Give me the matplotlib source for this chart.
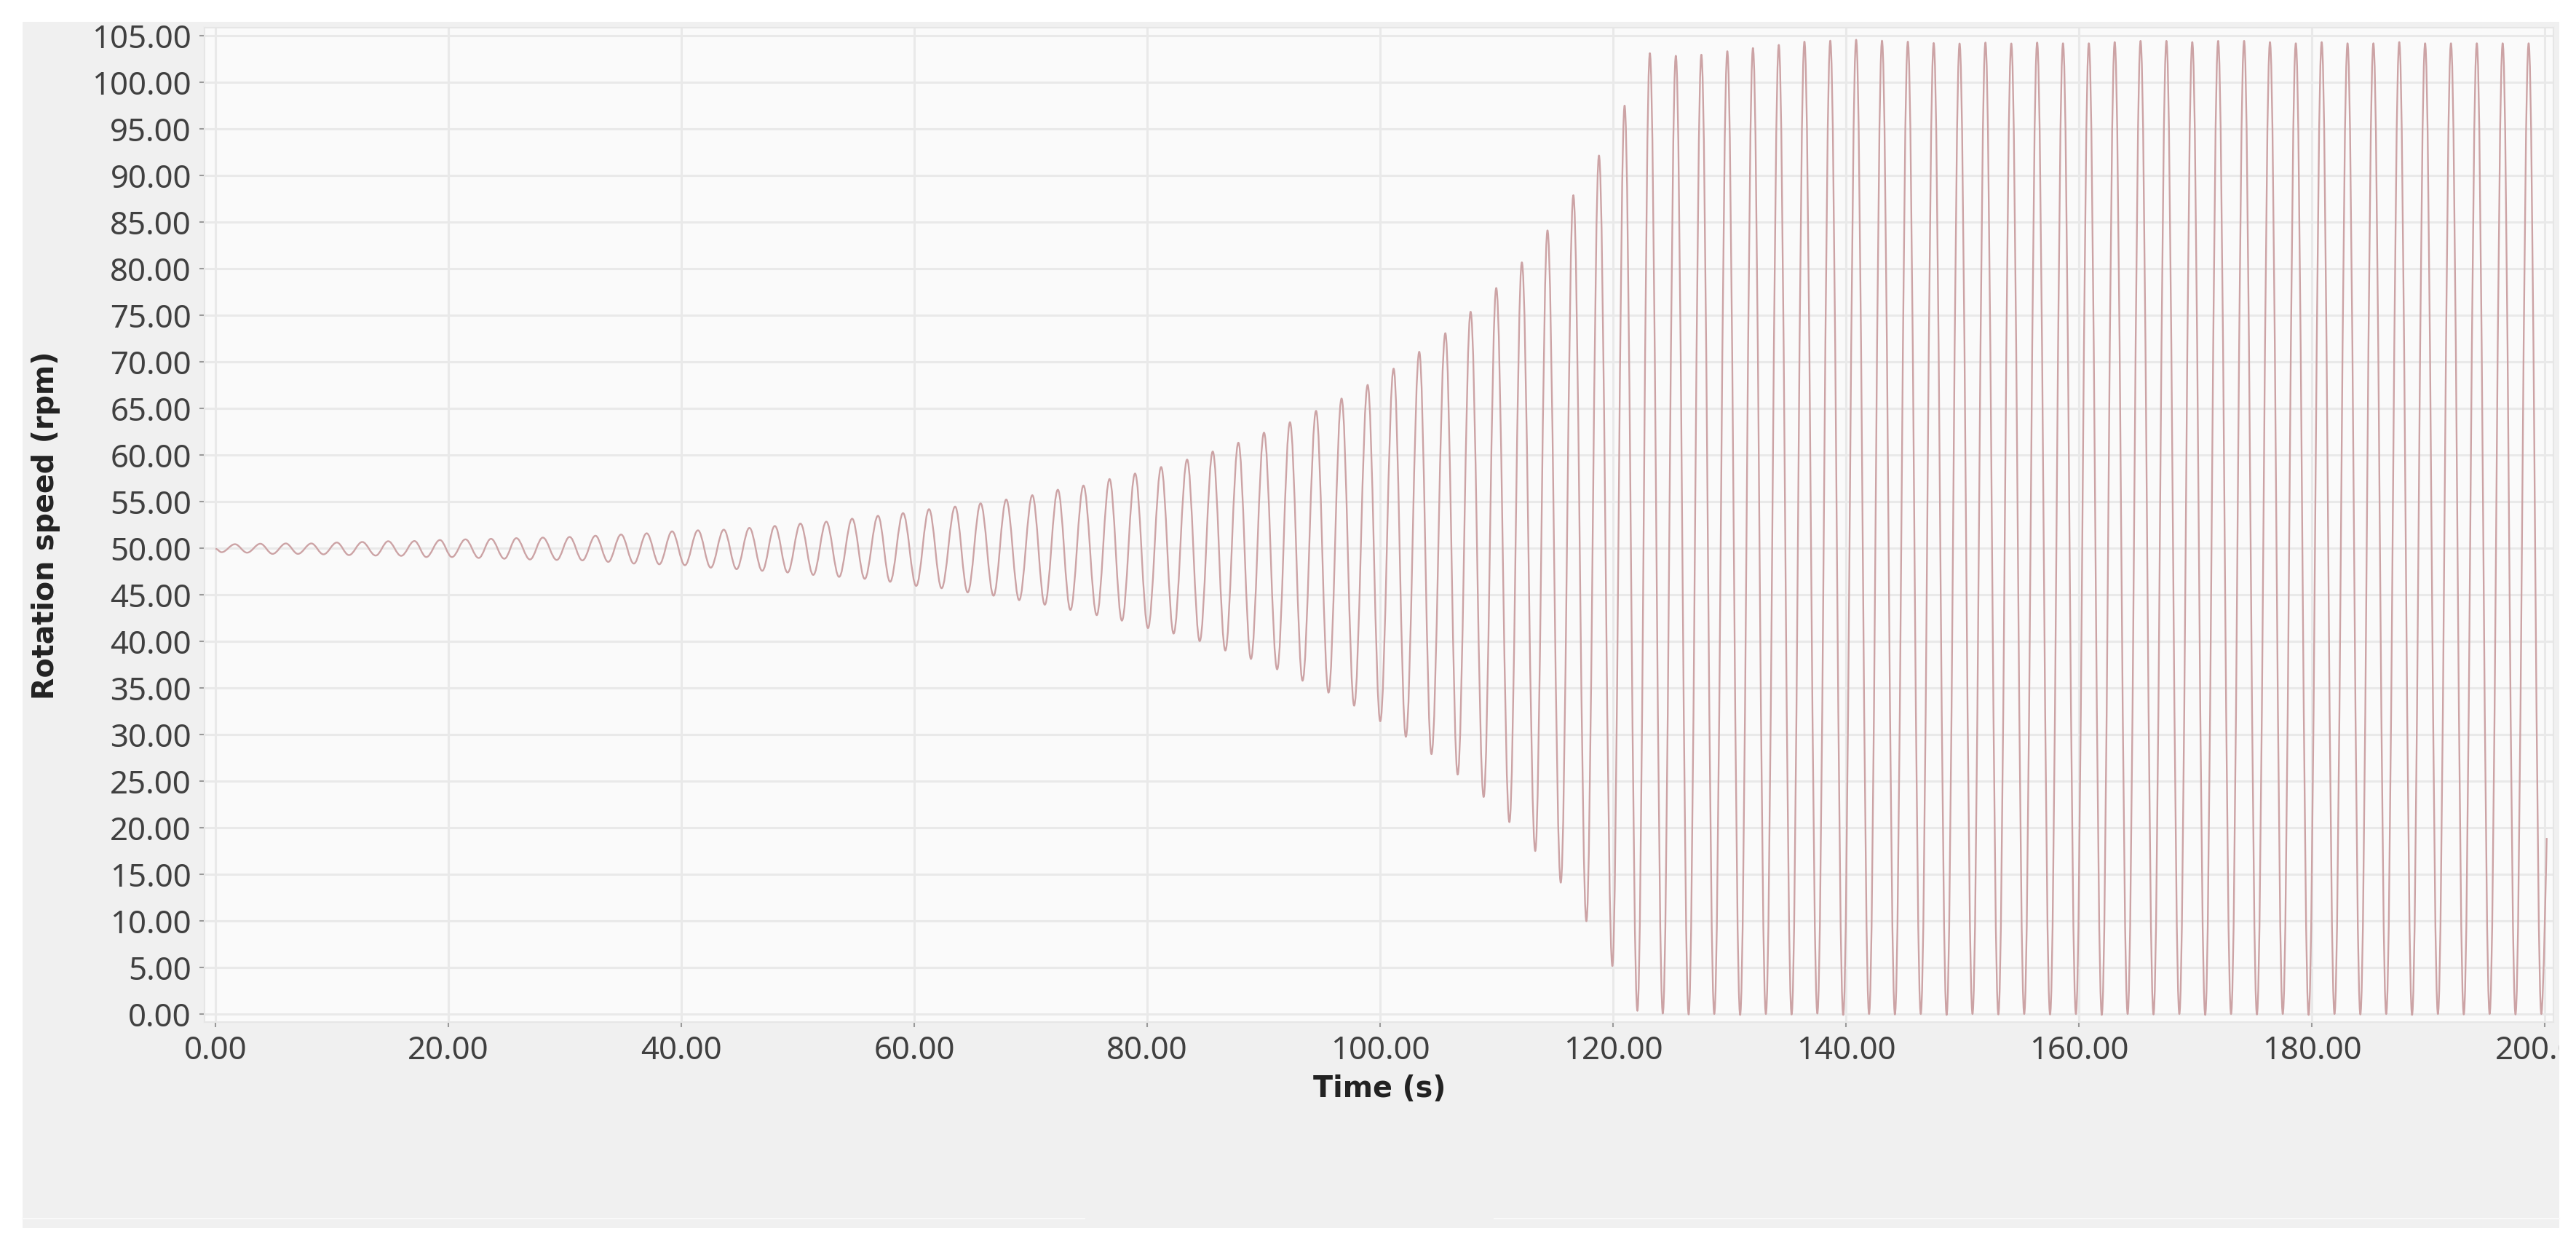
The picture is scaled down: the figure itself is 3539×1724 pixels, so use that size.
import numpy as np
import matplotlib
matplotlib.use('Agg')
import matplotlib.pyplot as plt
from matplotlib.path import Path
from matplotlib.patches import PathPatch, Rectangle
from matplotlib.transforms import Bbox, TransformedBbox
from matplotlib.ticker import FormatStrFormatter

start_t, start_v = 0.0, 49.95
end_t, end_v = 200.15, 18.9

peak_t = [1.67, 3.85, 6.04, 8.23, 10.42, 12.60, 14.83, 17.08, 19.27, 21.46,
          23.65, 25.83, 28.10, 30.40, 32.62, 34.82, 37.02, 39.20, 41.42, 43.64,
          45.84, 48.02, 50.22, 52.44, 54.66, 56.88, 59.03, 61.26, 63.50, 65.69,
          67.89, 70.13, 72.32, 74.52, 76.76, 78.95, 81.19, 83.42, 85.62, 87.82,
          90.02, 92.25, 94.49, 96.68, 98.92, 101.15, 103.35, 105.59, 107.76, 109.96,
          112.16, 114.36, 116.58, 118.78, 120.98, 123.15, 125.38, 127.57, 129.80, 132.00,
          134.22, 136.42, 138.64, 140.86, 143.08, 145.30, 147.52, 149.74, 151.96, 154.18,
          156.40, 158.62, 160.84, 163.06, 165.28, 167.50, 169.72, 171.94, 174.17, 176.39,
          178.61, 180.83, 183.05, 185.27, 187.49, 189.71, 191.93, 194.15, 196.37, 198.60]
peak_v = [50.44, 50.49, 50.52, 50.52, 50.62, 50.68, 50.76, 50.78, 50.89, 50.96,
          51.02, 51.09, 51.15, 51.22, 51.35, 51.48, 51.61, 51.82, 51.93, 52.00,
          52.19, 52.40, 52.66, 52.86, 53.18, 53.49, 53.78, 54.20, 54.48, 54.83,
          55.24, 55.70, 56.29, 56.74, 57.44, 58.03, 58.73, 59.53, 60.40, 61.34,
          62.42, 63.54, 64.76, 66.08, 67.54, 69.29, 71.10, 73.10, 75.40, 77.95,
          80.70, 84.13, 87.91, 92.17, 97.53, 103.16, 102.88, 103.00, 103.37, 103.71,
          104.05, 104.40, 104.50, 104.60, 104.50, 104.40, 104.25, 104.20, 104.30, 104.20,
          104.30, 104.22, 104.22, 104.35, 104.48, 104.48, 104.35, 104.48, 104.48, 104.35,
          104.22, 104.35, 104.22, 104.22, 104.35, 104.22, 104.22, 104.22, 104.22, 104.22]

trough_t = [0.52, 2.71, 4.90, 7.08, 9.27, 11.46, 13.75, 15.94, 18.10, 20.30,
            22.60, 24.80, 27.00, 29.30, 31.50, 33.72, 35.92, 38.10, 40.30, 42.52,
            44.74, 46.94, 49.12, 51.32, 53.54, 55.74, 57.92, 60.16, 62.34, 64.58,
            66.80, 69.00, 71.20, 73.40, 75.66, 77.82, 80.06, 82.26, 84.50, 86.70,
            88.90, 91.15, 93.33, 95.56, 97.76, 100.00, 102.20, 104.40, 106.65, 108.88,
            111.09, 113.31, 115.50, 117.70, 119.93, 122.08, 124.26, 126.48, 128.68, 130.90,
            133.11, 135.32, 137.53, 139.75, 141.97, 144.19, 146.41, 148.63, 150.85, 153.07,
            155.29, 157.51, 159.73, 161.95, 164.17, 166.39, 168.61, 170.83, 173.05, 175.27,
            177.49, 179.71, 181.93, 184.15, 186.37, 188.59, 190.81, 193.03, 195.25, 197.47,
            199.69]
trough_v = [49.58, 49.53, 49.40, 49.40, 49.35, 49.27, 49.22, 49.19, 49.06, 49.06,
            48.96, 48.88, 48.80, 48.75, 48.70, 48.54, 48.36, 48.28, 48.18, 47.92,
            47.76, 47.58, 47.40, 47.14, 46.93, 46.72, 46.40, 45.96, 45.71, 45.26,
            44.91, 44.43, 43.94, 43.38, 42.82, 42.23, 41.43, 40.84, 40.03, 39.02,
            38.12, 37.00, 35.78, 34.50, 33.10, 31.43, 29.76, 27.90, 25.70, 23.30,
            20.60, 17.50, 14.10, 9.96, 5.15, 0.34, 0.05, -0.05, 0.00, -0.10,
            0.00, -0.05, 0.05, -0.10, 0.00, -0.05, 0.00, -0.10, 0.00, -0.05,
            0.00, -0.05, 0.00, -0.10, 0.00, -0.05, 0.00, -0.10, 0.00, -0.05,
            0.00, -0.10, 0.00, -0.05, 0.00, -0.10, 0.00, -0.05, 0.00, -0.05,
            0.00]

x_ticks = [0, 20, 40, 60, 80, 100, 120, 140, 160, 180, 200]
y_ticks = [0, 5, 10, 15, 20, 25, 30, 35, 40, 45, 50, 55, 60, 65, 70, 75, 80, 85, 90, 95, 100, 105]

plt.rcParams['font.family'] = ['Noto Sans', 'DejaVu Sans']

fig = plt.figure(figsize=(35.395, 17.245), dpi=100)
fig.patch.set_facecolor('white')

# grey panel behind the chart
fig.add_artist(Rectangle((0.00876, 0.02146), 0.9935 - 0.00876, 0.9826 - 0.02146,
                         transform=fig.transFigure, facecolor='#f0f0f0',
                         edgecolor='none', zorder=-1))
# faint separator lines at the bottom of the panel
fig.add_artist(plt.Line2D([0.00876, 0.421], [0.0290, 0.0290], transform=fig.transFigure,
                          color='#f9f9f9', lw=1.5, zorder=-0.5))
fig.add_artist(plt.Line2D([0.580, 0.9935], [0.0290, 0.0290], transform=fig.transFigure,
                          color='#f9f9f9', lw=1.5, zorder=-0.5))

ax = fig.add_axes([0.0794, 0.1856, 0.9912 - 0.0794, 0.9774 - 0.1856])
ax.set_facecolor('#fafafa')

# join the turning points with smooth half-wave curves
t = np.concatenate([[start_t], peak_t, trough_t, [end_t]])
v = np.concatenate([[start_v], peak_v, trough_v, [end_v]])
order = np.argsort(t)
t, v = t[order], v[order]

k = 1 - 2 / np.pi
verts = [(t[0], v[0])]
codes = [Path.MOVETO]
for i in range(1, len(t)):
    dt = t[i] - t[i - 1]
    c2 = (t[i] - k * dt, v[i]) if i < len(t) - 1 else (t[i], v[i])
    verts += [(t[i - 1] + k * dt, v[i - 1]), c2, (t[i], v[i])]
    codes += [Path.CURVE4] * 3
ax.add_patch(PathPatch(Path(verts, codes), facecolor='none', edgecolor='#cca3a5',
                       lw=1.7, joinstyle='round', zorder=3))

ax.set_xlim(-0.94, 200.75)
ax.set_ylim(-0.86, 105.86)
ax.set_xticks(x_ticks)
ax.set_yticks(y_ticks)
ax.xaxis.set_major_formatter(FormatStrFormatter('%.2f'))
ax.yaxis.set_major_formatter(FormatStrFormatter('%.2f'))

ax.grid(True, color='#e9e9e9', lw=2.2, zorder=0)
ax.set_axisbelow(True)
ax.tick_params(length=5, width=1.5, color='#9a9a9a', labelsize=31.5,
               labelcolor='#404040', pad=8)
for s in ax.spines.values():
    s.set_color('#e6e6e6')
    s.set_linewidth(1.5)

ax.set_xlabel('Time (s)', fontsize=28.5, fontweight='bold', family='DejaVu Sans', color='#222222')
ax.set_ylabel('Rotation speed (rpm)', fontsize=28.5, fontweight='bold', family='DejaVu Sans',
              color='#222222')
ax.xaxis.set_label_coords(0.5, -0.0527)
ax.yaxis.set_label_coords(-0.0614, 0.5)

# the last tick label is cut off by the panel edge, as in the source chart
last = ax.get_xticklabels()[-1]
last.set_clip_box(TransformedBbox(Bbox.from_extents(0, 0, 0.9935, 1), fig.transFigure))
last.set_clip_on(True)

fig.savefig('out.png', dpi=100, facecolor='white')
